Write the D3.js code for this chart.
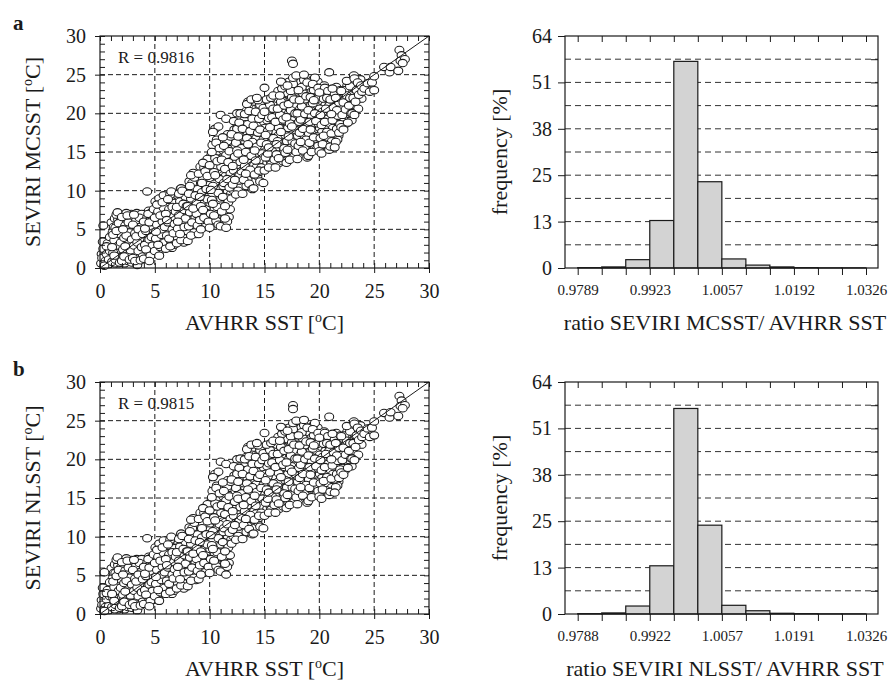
<!DOCTYPE html>
<html>
<head>
<meta charset="utf-8">
<script src="https://cdn.jsdelivr.net/npm/d3@7"></script>
<style>
  body { margin: 0; background: #fff; }
  svg text { font-family: "Liberation Serif", "Times New Roman", serif; fill: #1a1a1a; }
</style>
</head>
<body>
<svg id="chart" width="890" height="684"></svg>
<script>
const sstTicks = [0, 5, 10, 15, 20, 25, 30]

// AVHRR SST (x) vs SEVIRI MCSST (y)
const mcsstPoints = [
  [0.1,0.6],[0.2,1.3],[0.3,2.5],[0.3,5.5],[0.5,0.9],[0.6,1.8],[0.7,3.2],[0.8,1.1],[0.9,2.2],[0.4,0.3],[0.9,4.0],[0.6,2.8],
  [1.1,0.8],[1.2,2.0],[1.3,3.6],[1.4,5.2],[1.5,6.9],[1.6,1.4],[1.7,2.9],[1.8,4.4],[1.9,6.1],[1.2,4.3],[1.4,1.1],[1.6,7.2],[1.8,0.7],[1.9,3.3],[1.1,2.7],[1.5,4.8],[1.7,5.8],[1.3,1.6],
  [2.0,0.9],[2.1,2.4],[2.2,3.9],[2.3,5.5],[2.4,7.1],[2.5,1.6],[2.6,3.1],[2.7,4.6],[2.8,6.3],[2.9,0.7],[2.0,6.6],[2.2,1.5],[2.4,4.2],[2.6,5.9],[2.8,2.3],[2.1,5.0],[2.3,2.8],[2.5,6.8],[2.7,1.1],[2.9,3.7],
  [3.0,1.3],[3.1,2.9],[3.2,4.5],[3.3,6.2],[3.4,0.4],[3.5,2.2],[3.6,3.8],[3.7,5.3],[3.8,7.0],[3.9,1.5],[3.0,5.6],[3.2,0.9],[3.4,3.3],[3.6,6.5],[3.8,2.7],[3.1,6.9],[3.3,4.1],[3.5,5.0],[3.7,1.0],[3.9,4.4],
  [4.0,1.2],[4.1,3.0],[4.2,4.8],[4.3,9.9],[4.3,6.5],[4.4,2.1],[4.5,3.7],[4.6,5.4],[4.7,7.2],[4.8,2.9],[4.9,4.6],[4.0,6.0],[4.2,2.4],[4.4,7.0],[4.6,1.6],[4.8,6.2],[4.1,5.1],[4.5,0.9],[4.7,4.0],[4.9,7.6],[4.5,5.9],
  [5.0,2.2],[5.1,3.8],[5.2,5.6],[5.3,7.3],[5.4,9.0],[5.5,2.7],[5.6,4.3],[5.7,6.0],[5.8,7.8],[5.9,3.3],[5.0,6.5],[5.2,8.2],[5.4,1.6],[5.6,5.0],[5.8,9.4],[5.1,4.7],[5.3,3.0],[5.5,6.8],[5.7,8.5],[5.9,5.3],
  [6.0,2.5],[6.1,4.2],[6.2,5.9],[6.3,7.6],[6.4,9.5],[6.5,3.3],[6.6,5.0],[6.7,6.6],[6.8,8.4],[6.9,4.1],[6.0,7.0],[6.2,8.9],[6.4,2.8],[6.6,7.9],[6.8,5.7],[6.1,6.2],[6.3,3.8],[6.5,9.9],[6.7,4.5],[6.9,7.3],
  [7.0,3.2],[7.1,5.1],[7.2,6.8],[7.3,8.6],[7.4,10.3],[7.5,4.0],[7.6,5.8],[7.7,7.5],[7.8,9.2],[7.9,4.8],[7.0,7.9],[7.2,9.6],[7.4,3.6],[7.6,8.3],[7.8,6.4],[7.1,6.0],[7.3,4.4],[7.5,10.0],[7.7,5.3],[7.9,8.0],
  [8.0,3.5],[8.1,5.4],[8.2,7.2],[8.3,9.0],[8.4,11.0],[8.5,12.3],[8.6,4.6],[8.7,6.5],[8.8,8.4],[8.9,10.2],[8.0,8.0],[8.2,10.6],[8.4,5.9],[8.6,11.7],[8.8,7.0],[8.1,9.6],[8.3,4.2],[8.5,7.7],[8.7,9.4],[8.9,5.5],[8.3,12.0],
  [9.0,4.4],[9.1,6.2],[9.2,8.0],[9.3,9.8],[9.4,11.6],[9.5,13.0],[9.6,5.3],[9.7,7.1],[9.8,8.9],[9.9,10.7],[9.0,12.2],[9.2,5.0],[9.4,7.5],[9.6,12.5],[9.8,14.1],[9.1,9.2],[9.3,11.0],[9.5,6.5],[9.7,10.2],[9.9,6.0],[9.4,13.6],[9.8,11.9],
  [10.0,5.2],[10.1,7.0],[10.2,8.8],[10.3,10.6],[10.4,12.4],[10.5,14.2],[10.5,18.0],[10.6,6.1],[10.7,7.9],[10.8,9.7],[10.9,11.5],[10.0,13.3],[10.2,15.0],[10.4,6.8],[10.6,16.2],[10.8,18.3],[10.1,10.1],[10.3,8.3],[10.5,12.0],[10.7,13.8],[10.9,15.5],[10.3,17.6],[10.8,5.6],
  [11.0,5.4],[11.0,19.8],[11.1,7.3],[11.2,9.2],[11.3,11.0],[11.4,12.8],[11.5,14.6],[11.5,19.3],[11.6,6.0],[11.6,16.4],[11.7,8.5],[11.8,10.4],[11.9,12.2],[11.1,14.0],[11.3,15.8],[11.5,5.2],[11.7,13.7],[11.9,17.0],[11.2,16.9],[11.4,8.0],[11.8,15.1],[11.6,11.5],[11.4,6.4],
  [12.0,9.0],[12.1,10.8],[12.2,12.6],[12.3,14.4],[12.4,16.2],[12.5,18.0],[12.5,20.0],[12.6,10.0],[12.7,11.9],[12.8,13.7],[12.9,15.5],[12.0,17.3],[12.2,19.0],[12.4,9.5],[12.6,17.0],[12.8,20.0],[12.1,13.2],[12.3,11.4],[12.5,15.2],[12.7,18.8],[12.9,12.5],[12.6,14.8],
  [13.0,9.6],[13.1,11.4],[13.2,13.2],[13.3,15.0],[13.4,16.8],[13.5,18.6],[13.5,21.5],[13.6,10.9],[13.7,12.7],[13.8,14.5],[13.9,16.3],[13.0,18.0],[13.2,19.9],[13.4,21.2],[13.6,20.3],[13.8,21.8],[13.1,14.0],[13.3,12.2],[13.5,16.0],[13.7,17.7],[13.9,19.3],[13.9,10.2],
  [14.0,10.3],[14.1,12.1],[14.2,13.9],[14.3,15.7],[14.4,17.5],[14.5,19.3],[14.6,21.1],[14.6,11.2],[14.7,13.0],[14.8,14.8],[14.9,16.6],[14.0,18.4],[14.2,20.2],[14.4,21.7],[14.6,17.9],[14.8,19.8],[14.9,11.0],[15.0,23.3],[14.1,15.2],[14.3,22.0],[14.5,12.6],[14.7,16.2],[14.9,20.7],
  [15.0,12.6],[15.1,14.3],[15.2,16.0],[15.3,17.7],[15.4,19.4],[15.5,21.1],[15.6,13.4],[15.7,15.1],[15.8,16.8],[15.9,18.5],[15.0,20.2],[15.2,21.8],[15.4,13.0],[15.6,22.0],[15.8,20.6],[15.1,17.2],[15.3,14.8],[15.5,18.2],[15.7,19.5],[15.9,14.0],[15.4,15.6],[15.8,22.3],
  [16.0,13.0],[16.1,14.7],[16.2,16.4],[16.3,18.1],[16.4,19.8],[16.5,21.5],[16.6,23.2],[16.7,13.8],[16.8,15.5],[16.9,17.2],[16.0,18.9],[16.2,20.6],[16.4,22.3],[16.6,24.0],[16.8,21.0],[16.9,23.5],[16.1,16.0],[16.3,14.2],[16.5,17.6],[16.7,19.2],[16.9,14.9],[16.5,24.1],
  [17.0,13.6],[17.1,15.3],[17.2,17.0],[17.3,18.7],[17.4,20.4],[17.5,22.1],[17.5,26.8],[17.6,26.4],[17.6,23.8],[17.7,14.4],[17.8,16.1],[17.9,17.8],[17.0,19.5],[17.2,21.2],[17.4,22.9],[17.6,24.6],[17.8,20.0],[17.9,24.9],[17.1,23.6],[17.3,14.0],[17.5,18.3],[17.7,21.8],[17.9,15.0],
  [18.0,14.1],[18.1,15.8],[18.2,17.5],[18.3,19.2],[18.4,20.9],[18.5,22.6],[18.6,24.3],[18.7,14.9],[18.8,16.6],[18.9,18.3],[18.0,20.0],[18.2,21.7],[18.4,23.4],[18.6,25.0],[18.8,22.2],[18.9,24.0],[18.1,23.0],[18.3,16.3],[18.5,18.0],[18.7,19.9],[18.9,14.3],[18.5,15.2],
  [19.0,14.5],[19.1,16.2],[19.2,17.9],[19.3,19.6],[19.4,21.3],[19.5,23.0],[19.6,24.6],[19.7,15.3],[19.8,17.0],[19.9,18.7],[19.0,20.4],[19.2,22.1],[19.4,23.8],[19.6,20.0],[19.8,21.9],[19.9,23.3],[19.1,18.9],[19.3,15.0],[19.5,16.9],[19.7,19.0],[19.9,15.8],[19.5,21.7],
  [20.0,15.1],[20.1,16.8],[20.2,18.5],[20.3,20.2],[20.4,21.9],[20.5,23.3],[20.6,15.9],[20.7,17.6],[20.8,19.3],[20.9,21.0],[20.9,25.3],[20.0,22.7],[20.2,14.8],[20.4,17.1],[20.6,20.6],[20.8,22.9],[20.1,19.8],[20.3,16.0],[20.5,18.9],[20.7,22.0],[20.9,15.3],
  [21.0,15.7],[21.1,17.4],[21.2,19.1],[21.3,20.8],[21.4,22.5],[21.5,16.3],[21.6,18.0],[21.7,19.7],[21.8,21.4],[21.9,23.0],[21.0,21.8],[21.2,23.2],[21.4,15.6],[21.6,20.4],[21.8,17.5],[21.1,19.9],[21.5,22.0],[21.9,18.6],
  [22.0,18.2],[22.1,19.8],[22.2,21.4],[22.3,23.0],[22.4,20.5],[22.5,22.3],[22.6,18.8],[22.7,21.0],[22.8,23.5],[22.9,20.0],[22.2,17.9],[22.5,24.2],[22.8,22.0],[22.0,22.9],
  [23.0,20.0],[23.1,22.0],[23.2,24.5],[23.3,21.5],[23.4,23.0],[23.5,24.0],[23.6,22.4],[23.8,23.6],[23.2,19.8],[23.9,22.8],
  [24.1,23.2],[24.4,23.9],[24.6,22.8],[24.8,24.0],[25.0,23.0],[25.0,24.8],
  [25.9,26.0],[26.4,25.3],[26.5,26.0],[27.2,25.5],[27.3,28.2],[27.5,27.5],[27.4,26.8],[27.8,27.0],[27.6,26.5]
]

// AVHRR SST (x) vs SEVIRI NLSST (y)
const nlsstPoints = [
  [0.1,0.7],[0.2,1.2],[0.3,2.6],[0.4,5.4],[0.5,0.9],[0.6,1.9],[0.7,3.1],[0.8,1.0],[0.9,2.3],[0.4,0.4],[0.9,4.1],[0.6,2.7],
  [1.1,0.9],[1.2,2.1],[1.3,3.5],[1.4,5.3],[1.5,7.0],[1.6,1.3],[1.7,3.0],[1.8,4.5],[1.9,6.0],[1.2,4.2],[1.4,1.2],[1.6,7.3],[1.8,0.8],[1.9,3.4],[1.1,2.6],[1.5,4.9],[1.7,5.7],[1.3,1.7],
  [2.0,1.0],[2.1,2.5],[2.2,4.0],[2.3,5.6],[2.4,7.2],[2.5,1.5],[2.6,3.2],[2.7,4.7],[2.8,6.4],[2.9,0.8],[2.0,6.7],[2.2,1.6],[2.4,4.3],[2.6,6.0],[2.8,2.4],[2.1,5.1],[2.3,2.9],[2.5,6.9],[2.7,1.2],[2.9,3.8],
  [3.0,1.4],[3.1,3.0],[3.2,4.6],[3.3,6.3],[3.4,0.5],[3.5,2.3],[3.6,3.9],[3.7,5.4],[3.8,7.1],[3.9,1.6],[3.0,5.7],[3.2,1.0],[3.4,3.4],[3.6,6.6],[3.8,2.8],[3.1,7.0],[3.3,4.2],[3.5,5.1],[3.7,1.1],[3.9,4.5],
  [4.0,1.3],[4.1,3.1],[4.2,4.9],[4.3,9.8],[4.3,6.6],[4.4,2.2],[4.5,3.8],[4.6,5.5],[4.7,7.3],[4.8,3.0],[4.9,4.7],[4.0,6.1],[4.2,2.5],[4.4,7.1],[4.6,1.7],[4.8,6.3],[4.1,5.2],[4.5,1.0],[4.7,4.1],[4.9,7.7],[4.5,6.0],
  [5.0,2.3],[5.1,3.9],[5.2,5.7],[5.3,7.4],[5.4,9.1],[5.5,2.8],[5.6,4.4],[5.7,6.1],[5.8,7.9],[5.9,3.4],[5.0,6.6],[5.2,8.3],[5.4,1.7],[5.6,5.1],[5.8,9.5],[5.1,4.8],[5.3,3.1],[5.5,6.9],[5.7,8.6],[5.9,5.4],
  [6.0,2.6],[6.1,4.3],[6.2,6.0],[6.3,7.7],[6.4,9.6],[6.5,3.4],[6.6,5.1],[6.7,6.7],[6.8,8.5],[6.9,4.2],[6.0,7.1],[6.2,9.0],[6.4,2.9],[6.6,8.0],[6.8,5.8],[6.1,6.3],[6.3,3.9],[6.5,10.0],[6.7,4.6],[6.9,7.4],
  [7.0,3.3],[7.1,5.2],[7.2,6.9],[7.3,8.7],[7.4,10.4],[7.5,4.1],[7.6,5.9],[7.7,7.6],[7.8,9.3],[7.9,4.9],[7.0,8.0],[7.2,9.7],[7.4,3.7],[7.6,8.4],[7.8,6.5],[7.1,6.1],[7.3,4.5],[7.5,10.1],[7.7,5.4],[7.9,8.1],
  [8.0,3.6],[8.1,5.5],[8.2,7.3],[8.3,9.1],[8.4,11.1],[8.5,12.4],[8.6,4.7],[8.7,6.6],[8.8,8.5],[8.9,10.3],[8.0,8.1],[8.2,10.7],[8.4,6.0],[8.6,11.8],[8.8,7.1],[8.1,9.7],[8.3,4.3],[8.5,7.8],[8.7,9.5],[8.9,5.6],[8.3,12.2],
  [9.0,4.5],[9.1,6.3],[9.2,8.1],[9.3,9.9],[9.4,11.7],[9.5,13.1],[9.6,5.4],[9.7,7.2],[9.8,9.0],[9.9,10.8],[9.0,12.3],[9.2,5.1],[9.4,7.6],[9.6,12.6],[9.8,14.2],[9.1,9.3],[9.3,11.1],[9.5,6.6],[9.7,10.3],[9.9,6.1],[9.4,13.7],[9.8,12.0],
  [10.0,5.3],[10.1,7.1],[10.2,8.9],[10.3,10.7],[10.4,12.5],[10.5,14.3],[10.5,18.1],[10.6,6.2],[10.7,8.0],[10.8,9.8],[10.9,11.6],[10.0,13.4],[10.2,15.1],[10.4,6.9],[10.6,16.3],[10.8,18.4],[10.1,10.2],[10.3,8.4],[10.5,12.1],[10.7,13.9],[10.9,15.6],[10.3,17.7],[10.8,5.7],
  [11.0,5.5],[11.0,19.7],[11.1,7.4],[11.2,9.3],[11.3,11.1],[11.4,12.9],[11.5,14.7],[11.5,19.4],[11.6,6.1],[11.6,16.5],[11.7,8.6],[11.8,10.5],[11.9,12.3],[11.1,14.1],[11.3,15.9],[11.5,5.1],[11.7,13.8],[11.9,17.1],[11.2,17.0],[11.4,8.1],[11.8,15.2],[11.6,11.6],[11.4,6.5],
  [12.0,9.1],[12.1,10.9],[12.2,12.7],[12.3,14.5],[12.4,16.3],[12.5,18.1],[12.5,20.0],[12.6,10.1],[12.7,12.0],[12.8,13.8],[12.9,15.6],[12.0,17.4],[12.2,19.1],[12.4,9.6],[12.6,17.1],[12.8,20.1],[12.1,13.3],[12.3,11.5],[12.5,15.3],[12.7,18.9],[12.9,12.6],[12.6,14.9],
  [13.0,9.7],[13.1,11.5],[13.2,13.3],[13.3,15.1],[13.4,16.9],[13.5,18.7],[13.5,21.6],[13.6,11.0],[13.7,12.8],[13.8,14.6],[13.9,16.4],[13.0,18.1],[13.2,20.0],[13.4,21.3],[13.6,20.4],[13.8,21.9],[13.1,14.1],[13.3,12.3],[13.5,16.1],[13.7,17.8],[13.9,19.4],[13.9,10.3],
  [14.0,10.4],[14.1,12.2],[14.2,14.0],[14.3,15.8],[14.4,17.6],[14.5,19.4],[14.6,21.2],[14.6,11.3],[14.7,13.1],[14.8,14.9],[14.9,16.7],[14.0,18.5],[14.2,20.3],[14.4,21.8],[14.6,18.0],[14.8,19.9],[14.9,11.1],[15.0,23.4],[14.1,15.3],[14.3,22.1],[14.5,12.7],[14.7,16.3],[14.9,20.8],
  [15.0,12.7],[15.1,14.4],[15.2,16.1],[15.3,17.8],[15.4,19.5],[15.5,21.2],[15.6,13.5],[15.7,15.2],[15.8,16.9],[15.9,18.6],[15.0,20.3],[15.2,21.9],[15.4,13.1],[15.6,22.1],[15.8,20.7],[15.1,17.3],[15.3,14.9],[15.5,18.3],[15.7,19.6],[15.9,14.1],[15.4,15.7],[15.8,22.4],
  [16.0,13.1],[16.1,14.8],[16.2,16.5],[16.3,18.2],[16.4,19.9],[16.5,21.6],[16.6,23.3],[16.7,13.9],[16.8,15.6],[16.9,17.3],[16.0,19.0],[16.2,20.7],[16.4,22.4],[16.6,24.1],[16.8,21.1],[16.9,23.6],[16.1,16.1],[16.3,14.3],[16.5,17.7],[16.7,19.3],[16.9,15.0],[16.5,24.2],
  [17.0,13.7],[17.1,15.4],[17.2,17.1],[17.3,18.8],[17.4,20.5],[17.5,22.2],[17.6,27.0],[17.6,26.5],[17.6,23.9],[17.7,14.5],[17.8,16.2],[17.9,17.9],[17.0,19.6],[17.2,21.3],[17.4,23.0],[17.6,24.7],[17.8,20.1],[17.9,25.0],[17.1,23.7],[17.3,14.1],[17.5,18.4],[17.7,21.9],[17.9,15.1],
  [18.0,14.2],[18.1,15.9],[18.2,17.6],[18.3,19.3],[18.4,21.0],[18.5,22.7],[18.6,24.4],[18.7,15.0],[18.8,16.7],[18.9,18.4],[18.0,20.1],[18.2,21.8],[18.4,23.5],[18.6,25.1],[18.8,22.3],[18.9,24.1],[18.1,23.1],[18.3,16.4],[18.5,18.1],[18.7,20.0],[18.9,14.4],[18.5,15.3],
  [19.0,14.6],[19.1,16.3],[19.2,18.0],[19.3,19.7],[19.4,21.4],[19.5,23.1],[19.6,24.7],[19.7,15.4],[19.8,17.1],[19.9,18.8],[19.0,20.5],[19.2,22.2],[19.4,23.9],[19.6,20.1],[19.8,22.0],[19.9,23.4],[19.1,19.0],[19.3,15.1],[19.5,17.0],[19.7,19.1],[19.9,15.9],[19.5,21.8],
  [20.0,15.2],[20.1,16.9],[20.2,18.6],[20.3,20.3],[20.4,22.0],[20.5,23.4],[20.6,16.0],[20.7,17.7],[20.8,19.4],[20.9,21.1],[20.9,25.5],[20.0,22.8],[20.2,14.9],[20.4,17.2],[20.6,20.7],[20.8,23.0],[20.1,19.9],[20.3,16.1],[20.5,19.0],[20.7,22.1],[20.9,15.4],
  [21.0,15.8],[21.1,17.5],[21.2,19.2],[21.3,20.9],[21.4,22.6],[21.5,16.4],[21.6,18.1],[21.7,19.8],[21.8,21.5],[21.9,23.1],[21.0,21.9],[21.2,23.3],[21.4,15.7],[21.6,20.5],[21.8,17.6],[21.1,20.0],[21.5,22.1],[21.9,18.7],
  [22.0,18.3],[22.1,19.9],[22.2,21.5],[22.3,23.1],[22.4,20.6],[22.5,22.4],[22.6,18.9],[22.7,21.1],[22.8,23.6],[22.9,20.1],[22.2,18.0],[22.5,24.3],[22.8,22.1],[22.0,23.0],
  [23.0,20.1],[23.1,22.1],[23.2,24.6],[23.3,21.6],[23.4,23.1],[23.5,24.1],[23.6,22.5],[23.8,23.7],[23.2,19.9],[23.9,22.9],
  [24.1,23.3],[24.4,24.0],[24.6,22.9],[24.8,24.1],[25.0,23.1],[25.0,24.9],
  [25.9,26.0],[26.4,25.4],[26.5,26.1],[27.2,25.6],[27.3,28.2],[27.5,27.6],[27.4,26.9],[27.8,27.0],[27.6,26.6]
]

// dense core of the cloud, indistinguishable between panels a and b
const coreCloud = [
  [0.15,1.8],[0.35,0.9],[0.55,2.4],[0.75,0.5],[0.85,3.0],[0.25,3.4],[0.65,1.4],[0.95,2.8],
  [1.05,5.9],[1.25,1.2],[1.45,3.9],[1.65,0.6],[1.85,5.0],[1.15,3.1],[1.35,6.4],[1.55,2.3],[1.75,4.0],[1.95,1.7],[1.05,1.5],[1.25,5.3],[1.45,2.6],[1.65,6.3],[1.85,3.7],[1.15,4.6],[1.35,0.6],[1.55,5.6],[1.75,2.0],[1.95,6.8],
  [2.05,3.3],[2.25,6.1],[2.45,1.0],[2.65,4.9],[2.85,7.0],[2.15,1.9],[2.35,4.5],[2.55,3.5],[2.75,6.0],[2.95,2.0],[2.05,4.4],[2.25,0.6],[2.45,5.7],[2.65,2.6],[2.85,4.1],[2.15,6.9],[2.35,3.6],[2.55,0.9],[2.75,5.3],[2.95,6.5],[2.45,2.9],[2.65,6.7],
  [3.05,3.6],[3.25,5.4],[3.45,1.8],[3.65,4.7],[3.85,6.1],[3.15,0.8],[3.35,2.5],[3.55,6.8],[3.75,3.1],[3.95,5.7],[3.05,4.8],[3.25,2.0],[3.45,6.0],[3.65,1.3],[3.85,3.9],[3.15,4.3],[3.35,7.1],[3.55,2.9],[3.75,5.9],[3.95,2.3],[3.55,4.1],[3.25,3.3],
  [4.05,2.7],[4.25,5.6],[4.45,1.4],[4.65,4.4],[4.85,6.9],[4.15,4.0],[4.35,1.9],[4.55,6.5],[4.75,3.3],[4.95,5.3],[4.05,7.0],[4.25,3.4],[4.45,5.0],[4.65,2.6],[4.85,4.1],[4.15,6.3],[4.35,3.6],[4.55,2.3],[4.75,5.8],[4.95,3.0],[4.45,7.4],[4.85,1.8],
  [5.05,4.1],[5.25,7.0],[5.45,3.2],[5.65,8.0],[5.85,5.6],[5.15,2.6],[5.35,5.3],[5.55,8.8],[5.75,3.6],[5.95,7.1],[5.05,8.6],[5.25,4.3],[5.45,6.3],[5.65,2.9],[5.85,6.8],[5.15,7.5],[5.35,1.9],[5.55,4.7],[5.75,7.4],[5.95,4.6],[5.45,5.0],[5.85,8.9],
  [6.05,5.4],[6.25,3.2],[6.45,7.3],[6.65,4.0],[6.85,9.1],[6.15,8.3],[6.35,5.6],[6.55,2.6],[6.75,6.1],[6.95,5.0],[6.05,3.6],[6.25,7.9],[6.45,4.6],[6.65,9.3],[6.85,3.6],[6.15,4.9],[6.35,8.8],[6.55,6.9],[6.75,3.0],[6.95,8.7],[6.45,6.2],[6.65,5.8],
  [7.05,6.2],[7.25,4.0],[7.45,8.0],[7.65,3.3],[7.85,7.1],[7.15,9.2],[7.35,5.6],[7.55,7.3],[7.75,10.1],[7.95,6.0],[7.05,4.6],[7.25,8.8],[7.45,5.1],[7.65,9.8],[7.85,4.1],[7.15,7.0],[7.35,10.2],[7.55,5.7],[7.75,8.6],[7.95,9.5],[7.45,6.6],[7.85,5.3],
  [8.05,6.4],[8.25,9.1],[8.45,4.6],[8.65,10.4],[8.85,6.1],[8.15,11.2],[8.35,7.9],[8.55,5.2],[8.75,8.8],[8.95,11.6],[8.05,4.8],[8.25,7.6],[8.45,10.1],[8.65,6.9],[8.85,9.8],[8.15,8.6],[8.35,5.6],[8.55,11.0],[8.75,4.4],[8.95,7.6],[8.45,8.3],[8.65,12.0],
  [9.05,7.6],[9.25,10.6],[9.45,5.3],[9.65,9.6],[9.85,12.6],[9.15,13.1],[9.35,6.6],[9.55,8.9],[9.75,11.3],[9.95,8.0],[9.05,9.9],[9.25,12.1],[9.45,8.6],[9.65,6.2],[9.85,10.1],[9.15,5.6],[9.35,8.3],[9.55,11.9],[9.75,13.4],[9.95,12.9],[9.45,10.4],[9.65,7.6],
  [10.05,8.4],[10.25,11.3],[10.45,14.3],[10.65,9.1],[10.85,12.6],[10.15,6.1],[10.35,13.6],[10.55,10.3],[10.75,15.1],[10.95,7.3],[10.05,11.6],[10.25,9.6],[10.45,7.6],[10.65,13.0],[10.85,10.6],[10.15,14.6],[10.35,12.1],[10.55,6.6],[10.75,11.6],[10.95,14.0],[10.45,10.9],[10.65,16.6],[10.85,8.6],[10.25,15.9],
  [11.05,9.0],[11.25,12.0],[11.45,15.3],[11.65,10.0],[11.85,13.6],[11.15,16.1],[11.35,7.1],[11.55,12.9],[11.75,16.3],[11.95,9.6],[11.05,13.1],[11.25,10.6],[11.45,6.9],[11.65,14.2],[11.85,11.3],[11.15,11.6],[11.35,14.6],[11.55,9.1],[11.75,6.6],[11.95,14.9],[11.45,11.9],[11.65,17.3],[11.85,7.6],[11.25,15.2],
  [12.05,11.6],[12.25,14.9],[12.45,12.1],[12.65,15.9],[12.85,10.6],[12.15,16.6],[12.35,9.9],[12.55,13.6],[12.75,16.8],[12.95,14.3],[12.05,14.1],[12.25,17.9],[12.45,13.9],[12.65,11.3],[12.85,17.6],[12.15,10.1],[12.35,15.9],[12.55,18.6],[12.75,12.9],[12.95,18.1],[12.45,16.9],[12.65,19.3],[12.85,15.0],[12.25,12.3],
  [13.05,12.6],[13.25,16.3],[13.45,13.6],[13.65,18.3],[13.85,15.3],[13.15,19.1],[13.35,10.6],[13.55,14.6],[13.75,19.8],[13.95,12.1],[13.05,15.6],[13.25,18.6],[13.45,11.4],[13.65,16.6],[13.85,13.4],[13.15,16.9],[13.35,20.3],[13.55,12.3],[13.75,15.9],[13.95,17.9],[13.45,17.6],[13.65,13.9],[13.85,20.6],[13.25,14.4],
  [14.05,13.3],[14.25,16.8],[14.45,14.6],[14.65,19.6],[14.85,13.3],[14.15,19.1],[14.35,11.9],[14.55,16.1],[14.75,21.3],[14.95,15.4],[14.05,16.1],[14.25,20.6],[14.45,12.4],[14.65,17.6],[14.85,18.1],[14.15,14.4],[14.35,18.4],[14.55,20.9],[14.75,14.0],[14.95,18.9],[14.45,19.9],[14.65,15.1],[14.85,21.6],[14.25,13.0],
  [15.05,15.6],[15.25,19.1],[15.45,14.1],[15.65,17.9],[15.85,13.6],[15.15,21.1],[15.35,16.6],[15.55,20.1],[15.75,14.6],[15.95,19.6],[15.05,18.1],[15.25,13.6],[15.45,21.6],[15.65,16.4],[15.85,18.6],[15.15,15.1],[15.35,20.8],[15.55,13.9],[15.75,17.4],[15.95,21.4],[15.45,17.1],[15.65,20.6],[15.85,15.9],[15.25,17.6],
  [16.05,15.4],[16.25,19.1],[16.45,14.6],[16.65,18.6],[16.85,22.1],[16.15,21.9],[16.35,16.9],[16.55,20.3],[16.75,15.1],[16.95,19.6],[16.05,17.6],[16.25,22.9],[16.45,18.1],[16.65,14.4],[16.85,17.9],[16.15,20.1],[16.35,13.6],[16.55,15.9],[16.75,21.6],[16.95,16.4],[16.45,20.9],[16.65,22.6],[16.85,19.0],[16.25,17.1],
  [17.05,16.4],[17.25,20.1],[17.45,15.6],[17.65,19.6],[17.85,23.1],[17.15,22.6],[17.35,17.6],[17.55,21.1],[17.75,16.9],[17.95,20.6],[17.05,21.4],[17.25,14.9],[17.45,19.1],[17.65,23.0],[17.85,18.6],[17.15,18.1],[17.35,23.4],[17.55,16.4],[17.75,22.4],[17.95,17.1],[17.45,21.9],[17.65,15.4],[17.85,21.1],[17.25,24.1],
  [18.05,17.1],[18.25,20.6],[18.45,16.1],[18.65,21.4],[18.85,17.6],[18.15,22.4],[18.35,18.1],[18.55,23.9],[18.75,19.1],[18.95,21.6],[18.05,21.9],[18.25,15.4],[18.45,19.6],[18.65,17.1],[18.85,23.6],[18.15,18.9],[18.35,24.1],[18.55,20.4],[18.75,16.4],[18.95,19.9],[18.45,22.9],[18.65,15.6],[18.85,20.9],[18.25,23.1],
  [19.05,17.4],[19.25,21.1],[19.45,16.4],[19.65,22.4],[19.85,18.4],[19.15,23.4],[19.35,18.1],[19.55,20.4],[19.75,23.6],[19.95,20.6],[19.05,22.6],[19.25,16.1],[19.45,19.4],[19.65,17.6],[19.85,24.1],[19.15,19.9],[19.35,22.9],[19.55,15.4],[19.75,21.1],[19.95,17.9],[19.45,24.4],[19.65,19.1],[19.85,16.6],[19.25,18.6],
  [20.05,18.1],[20.25,21.6],[20.45,16.4],[20.65,22.9],[20.85,18.1],[20.15,23.1],[20.35,19.1],[20.55,21.1],[20.75,15.6],[20.95,19.6],[20.05,20.6],[20.25,17.6],[20.45,23.6],[20.65,18.9],[20.85,21.9],[20.15,16.1],[20.35,22.4],[20.55,17.1],[20.75,20.4],[20.95,22.6],[20.45,20.1],[20.65,16.9],
  [21.05,18.6],[21.25,21.9],[21.45,17.6],[21.65,22.9],[21.85,19.9],[21.15,16.4],[21.35,19.6],[21.55,21.1],[21.75,17.1],[21.95,21.9],[21.05,23.1],[21.25,18.1],[21.45,20.4],[21.65,16.6],[21.85,22.4],[21.15,20.9],[21.35,17.4],[21.55,23.4],[21.75,20.1],[21.95,19.4],
  [22.05,20.6],[22.25,22.6],[22.45,19.4],[22.65,23.1],[22.85,21.1],[22.15,18.9],[22.35,21.9],[22.55,20.9],[22.75,22.4],[22.95,19.1],[22.35,18.6],[22.55,23.6],[22.75,19.9],[22.95,22.9],
  [23.05,21.1],[23.25,23.1],[23.45,22.1],[23.65,23.4],[23.85,21.9],[23.15,24.9],[23.55,20.6],[23.75,24.4]
]

const ratioLabelsA = ["0.9789", "0.9923", "1.0057", "1.0192", "1.0326"]
const ratioLabelsB = ["0.9788", "0.9922", "1.0057", "1.0191", "1.0326"]
const freqTicks = [0, 12.8, 25.6, 38.4, 51.2, 64]
const freqTickLabels = ["0", "13", "25", "38", "51", "64"]
const freqGrid = [6.4, 12.8, 19.2, 25.6, 32, 38.4, 44.8, 51.2, 57.6]
// frequency [%] per ratio bin (12 bins)
const freqMC = [0.1, 0.3, 2.3, 13.1, 57.0, 23.8, 2.5, 0.8, 0.3, 0.1, 0.05, 0.05]
const freqNL = [0.1, 0.3, 2.2, 13.3, 56.7, 24.5, 2.4, 0.9, 0.2, 0.1, 0.05, 0.05]

const svg = d3.select("#chart")
const ink = "#1a1a1a"

function styleAxis(g) {
  g.select(".domain").remove()
  g.selectAll("line").attr("stroke", ink).attr("stroke-width", 1)
}

// "prefix [°C]" with a raised small o
function degLabel(text, prefix) {
  text.append("tspan").text(prefix + " [")
  text.append("tspan").attr("font-size", 14).attr("dy", -8).text("o")
  text.append("tspan").attr("dy", 8).text("C]")
}

function drawScatter(top, points, rText, yTitle, letter) {
  const left = 100, right = 429, bottom = top + 232
  const x = d3.scaleLinear().domain([0, 30]).range([left, right])
  const y = d3.scaleLinear().domain([0, 30]).range([bottom, top])
  const g = svg.append("g")
  const minor = d3.range(0, 31)

  // dashed grid
  g.append("g").selectAll("line").data(sstTicks.slice(1, -1)).enter().append("line")
    .attr("x1", d => x(d)).attr("x2", d => x(d)).attr("y1", top).attr("y2", bottom)
    .attr("stroke", ink).attr("stroke-width", 1).attr("stroke-dasharray", "5,3")
  g.append("g").selectAll("line").data(sstTicks.slice(1, -1)).enter().append("line")
    .attr("y1", d => y(d)).attr("y2", d => y(d)).attr("x1", left).attr("x2", right)
    .attr("stroke", ink).attr("stroke-width", 1).attr("stroke-dasharray", "5,3")

  // points
  g.append("g").selectAll("ellipse").data(coreCloud.concat(points)).enter().append("ellipse")
    .attr("cx", d => x(d[0])).attr("cy", d => y(d[1]))
    .attr("rx", 4.5).attr("ry", 3.7)
    .attr("fill", "#fff").attr("stroke", ink).attr("stroke-width", 1.05)

  // 1:1 line
  g.append("line")
    .attr("x1", x(0)).attr("y1", y(0)).attr("x2", x(30)).attr("y2", y(30))
    .attr("stroke", ink).attr("stroke-width", 1)

  // inward minor ticks on all four sides
  g.append("g").attr("transform", `translate(0,${bottom})`)
    .call(d3.axisBottom(x).tickValues(minor).tickSize(-5).tickFormat("")).call(styleAxis)
  g.append("g").attr("transform", `translate(0,${top})`)
    .call(d3.axisTop(x).tickValues(minor).tickSize(-5).tickFormat("")).call(styleAxis)
  g.append("g").attr("transform", `translate(${left},0)`)
    .call(d3.axisLeft(y).tickValues(minor).tickSize(-5).tickFormat("")).call(styleAxis)
  g.append("g").attr("transform", `translate(${right},0)`)
    .call(d3.axisRight(y).tickValues(minor).tickSize(-5).tickFormat("")).call(styleAxis)

  // labelled major ticks
  const xa = g.append("g").attr("transform", `translate(0,${bottom})`)
    .call(d3.axisBottom(x).tickValues(sstTicks).tickSize(5).tickPadding(11)).call(styleAxis)
  xa.selectAll("text").attr("font-size", 20).attr("fill", ink)
  const ya = g.append("g").attr("transform", `translate(${left},0)`)
    .call(d3.axisLeft(y).tickValues(sstTicks).tickSize(5).tickPadding(9)).call(styleAxis)
  ya.selectAll("text").attr("font-size", 20).attr("fill", ink)
  xa.attr("font-family", null); ya.attr("font-family", null)

  // frame
  g.append("rect").attr("x", left).attr("y", top).attr("width", right - left).attr("height", bottom - top)
    .attr("fill", "none").attr("stroke", ink).attr("stroke-width", 1.2)

  g.append("text").attr("x", 118).attr("y", top + 27).attr("font-size", 17).text(rText)

  const xt = g.append("text").attr("x", (left + right) / 2).attr("y", bottom + 62)
    .attr("text-anchor", "middle").attr("font-size", 22)
  degLabel(xt, "AVHRR SST")
  const yt = g.append("text").attr("transform", `translate(40,${(top + bottom) / 2}) rotate(-90)`)
    .attr("text-anchor", "middle").attr("font-size", 22)
  degLabel(yt, yTitle)

  g.append("text").attr("x", 13).attr("y", top - 6).attr("font-size", 21)
    .attr("font-weight", "bold").text(letter)
}

function drawHist(top, freqs, labels, xTitle) {
  const left = 565, right = 878, bottom = top + 232
  const lo = +labels[0], hi = +labels[labels.length - 1]
  const x = d3.scaleLinear().domain([lo, hi]).range([577.7, 866])
  const y = d3.scaleLinear().domain([0, 64]).range([bottom, top])
  const edges = d3.range(freqs.length + 1).map(i => lo + i * (hi - lo) / freqs.length)
  const g = svg.append("g")

  g.append("g").selectAll("line").data(freqGrid).enter().append("line")
    .attr("x1", left).attr("x2", right).attr("y1", d => y(d)).attr("y2", d => y(d))
    .attr("stroke", "#333").attr("stroke-width", 1).attr("stroke-dasharray", "6,4")

  g.append("g").selectAll("rect").data(freqs).enter().append("rect")
    .attr("x", (d, i) => x(edges[i])).attr("width", (d, i) => x(edges[i + 1]) - x(edges[i]))
    .attr("y", d => y(d)).attr("height", d => y(0) - y(d))
    .attr("fill", "#d3d3d3").attr("stroke", ink).attr("stroke-width", 1.2)

  const xa = g.append("g").attr("transform", `translate(0,${bottom})`)
    .call(d3.axisBottom(x).tickValues(edges).tickSize(7).tickPadding(9)
      .tickFormat((d, i) => i % 3 === 0 ? labels[i / 3] : "")).call(styleAxis)
  xa.selectAll("text").attr("font-size", 15).attr("fill", ink)
  g.append("g").attr("transform", `translate(0,${top})`)
    .call(d3.axisTop(x).tickValues(edges).tickSize(-6).tickFormat("")).call(styleAxis)
  const ya = g.append("g").attr("transform", `translate(${left},0)`)
    .call(d3.axisLeft(y).tickValues(freqTicks).tickSize(7).tickPadding(6)
      .tickFormat((d, i) => freqTickLabels[i])).call(styleAxis)
  ya.selectAll("text").attr("font-size", 20).attr("fill", ink)
  g.append("g").attr("transform", `translate(${right},0)`)
    .call(d3.axisRight(y).tickValues(freqGrid).tickSize(-7).tickFormat("")).call(styleAxis)
  xa.attr("font-family", null); ya.attr("font-family", null)

  g.append("rect").attr("x", left).attr("y", top).attr("width", right - left).attr("height", bottom - top)
    .attr("fill", "none").attr("stroke", ink).attr("stroke-width", 1.2)

  g.append("text").attr("transform", `translate(507,${(top + bottom) / 2}) rotate(-90)`)
    .attr("text-anchor", "middle").attr("font-size", 22).text("frequency [%]")
  g.append("text").attr("x", 725).attr("y", bottom + 62)
    .attr("text-anchor", "middle").attr("font-size", 22).text(xTitle)
}

drawScatter(36, mcsstPoints, "R = 0.9816", "SEVIRI MCSST", "a")
drawHist(36, freqMC, ratioLabelsA, "ratio SEVIRI MCSST/ AVHRR SST")
drawScatter(382, nlsstPoints, "R = 0.9815", "SEVIRI NLSST", "b")
drawHist(382, freqNL, ratioLabelsB, "ratio SEVIRI NLSST/ AVHRR SST")
</script>
</body>
</html>
